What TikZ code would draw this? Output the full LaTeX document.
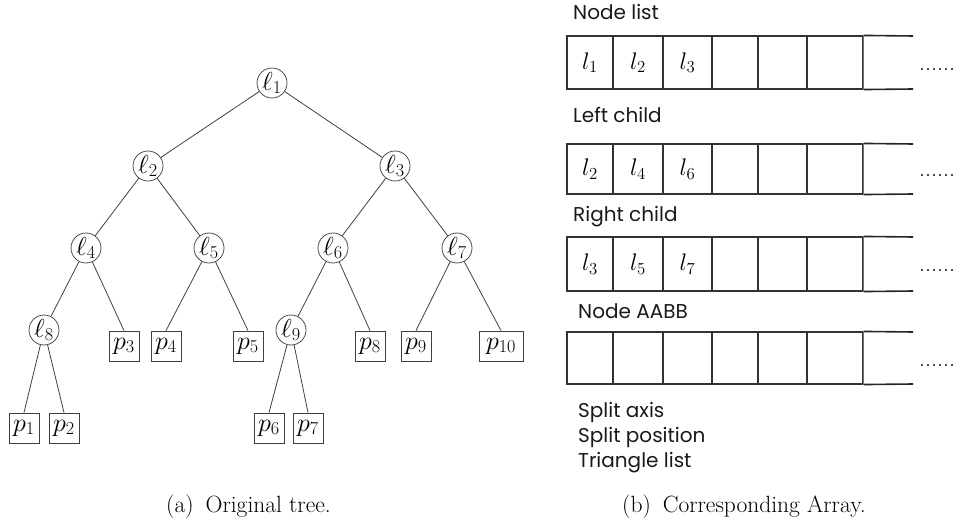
\RequirePackage{fix-cm}
\documentclass[tikz,border=0pt]{standalone}
\usepackage{fontspec}
\newfontfamily\gothic{Poppins}
\begin{document}
\begin{tikzpicture}[x=1pt,y=-1pt,
  inode/.style={circle,draw=black!70,line width=0.8pt,minimum size=30pt,inner sep=0pt,font=\fontsize{26}{26}\selectfont},
  leaf/.style={rectangle,draw=black!75,line width=0.8pt,minimum width=30pt,minimum height=30pt,inner sep=0pt,font=\fontsize{26}{26}\selectfont},
  edge/.style={draw=black!75,line width=0.8pt},
  cell/.style={rectangle,draw=black!80,line width=1.1pt,inner sep=0pt,minimum height=#1,font=\fontsize{24}{24}\selectfont},
  lbl/.style={anchor=base west,inner sep=0pt,text=black!90,font=\gothic\fontsize{20}{22}\selectfont},
  dots/.style={anchor=base,inner sep=0pt,font=\fontsize{24}{24}\selectfont},
  capt/.style={anchor=base west,inner sep=0pt,font=\fontsize{23.5}{25}\selectfont},
  openl/.style={draw=black!85,line width=1.6pt},
  openv/.style={draw=black!55,line width=1.1pt}
]
\useasboundingbox (0,0) rectangle (957,526);

% ---------------- tree ----------------
\node[inode] (l1) at (272,83) {$\ell_1$};
\node[inode] (l2) at (148,166) {$\ell_2$};
\node[inode] (l3) at (395,166) {$\ell_3$};
\node[inode] (l4) at (86,248) {$\ell_4$};
\node[inode] (l5) at (209,248) {$\ell_5$};
\node[inode] (l6) at (333,248) {$\ell_6$};
\node[inode] (l7) at (457,248) {$\ell_7$};
\node[inode] (l8) at (44,330) {$\ell_8$};
\node[inode] (l9) at (291,330) {$\ell_9$};

\node[leaf] (p1) at (24,428) {$p_1$};
\node[leaf] (p2) at (64,428) {$p_2$};
\node[leaf] (p3) at (124,346) {$p_3$};
\node[leaf] (p4) at (166,346) {$p_4$};
\node[leaf] (p5) at (248,346) {$p_5$};
\node[leaf] (p8) at (370,346) {$p_8$};
\node[leaf] (p9) at (416,346) {$p_9$};
\node[leaf,minimum width=44pt] (p10) at (501,346) {$p_{10}$};
\node[leaf] (p6) at (269,428) {$p_6$};
\node[leaf] (p7) at (308,428) {$p_7$};

\path[edge] (l1) -- (l2);
\path[edge] (l1) -- (l3);
\path[edge] (l2) -- (l4);
\path[edge] (l2) -- (l5);
\path[edge] (l3) -- (l6);
\path[edge] (l3) -- (l7);
\path[edge] (l4) -- (l8);
\path[edge] (l4) -- (p3.north);
\path[edge] (l5) -- (p4.north);
\path[edge] (l5) -- (p5.north);
\path[edge] (l6) -- (l9);
\path[edge] (l6) -- (p8.north);
\path[edge] (l7) -- (p9.north);
\path[edge] (l7) -- (p10.north);
\path[edge] (l8) -- (p1.north);
\path[edge] (l8) -- (p2.north);
\path[edge] (l9) -- (p6.north);
\path[edge] (l9) -- (p7.north);

% ---------------- arrays ----------------
\node[lbl] (t1) at (573,20) {Node list};
\node[lbl] (t2) at (573,123) {Left child};
\node[lbl] (t3) at (573,222) {Right child};
\node[lbl] (t4) at (578,318) {Node AABB};
\node[lbl] (t5) at (578,417) {Split axis};
\node[lbl] (t6) at (578,442) {Split position};
\node[lbl] (t7) at (578,467) {Triangle list};

\foreach \r/\top/\bot/\ta/\tb/\tc in {1/36/89/$l_1$/$l_2$/$l_3$, 2/144/194/$l_2$/$l_4$/$l_6$, 3/237/291/$l_3$/$l_5$/$l_7$, 4/332/384/{}/{}/{}}{
  \pgfmathsetmacro{\h}{\bot-\top}
  \pgfmathsetmacro{\m}{(\bot+\top)/2}
  \node[cell=\h pt,minimum width=46pt] (r\r c1) at (590,\m) {\ta};
  \node[cell=\h pt,minimum width=50pt] (r\r c2) at (638,\m) {\tb};
  \node[cell=\h pt,minimum width=49pt] (r\r c3) at (687.5,\m) {\tc};
  \node[cell=\h pt,minimum width=46pt] (r\r c4) at (735,\m) {};
  \node[cell=\h pt,minimum width=49pt] (r\r c5) at (782.5,\m) {};
  \node[cell=\h pt,minimum width=56pt] (r\r c6) at (835,\m) {};
  \coordinate (r\r a) at (913,\top);
  \coordinate (r\r b) at (913,\bot);
  \path[openl] (r\r c6.north east) -- (r\r a);
  \path[openl] (r\r c6.south east) -- (r\r b);
  \pgfmathsetmacro{\d}{\m+8}
  \node[dots] (r\r d) at (937,\d) {......};
}
\path[openv] (r1c6.north east) -- (r1c6.south east);
\path[openv] (r2c6.north east) -- (r2c6.south east);
\path[openv] (r3c6.north east) -- (r3c6.south east);
\path[openv] (r4c6.north east) -- (r4c6.south east);

% ---------------- captions ----------------
\node[capt] (ca) at (166,512) {(a)\hspace{12pt}Original tree.};
\node[capt] (cb) at (622,512) {(b)\hspace{12pt}Corresponding Array.};
\end{tikzpicture}
\end{document}
